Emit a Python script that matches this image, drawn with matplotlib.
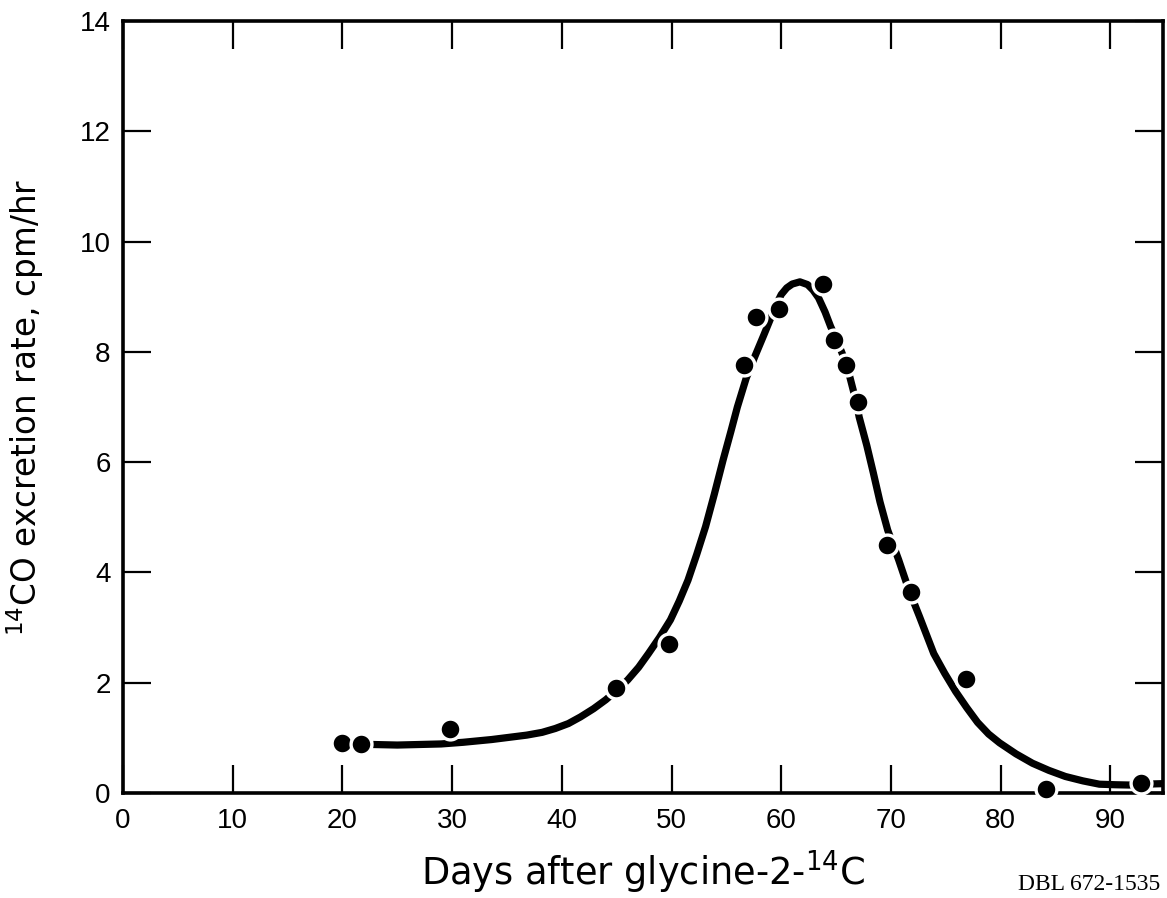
import numpy as np
import matplotlib.pyplot as plt

# measured points
days = [20, 21.7, 29.8, 44.9, 49.8, 56.6, 57.7, 59.8, 63.8, 64.8, 65.9, 67.0,
        69.6, 71.8, 76.8, 84.1, 92.8]
rate = [0.91, 0.89, 1.16, 1.91, 2.71, 7.76, 8.64, 8.77, 9.23, 8.22, 7.76, 7.09,
        4.49, 3.65, 2.06, 0.08, 0.18]

# hand-drawn fitted curve
curve_x = [22.8, 25.0, 27.0, 29.0, 31.0, 33.6, 35.2, 36.8, 38.2, 39.4, 40.6, 41.7,
           42.9, 44.0, 45.0, 46.0, 47.0, 47.9, 48.9, 49.9, 50.7, 51.5, 52.3, 53.1,
           53.9, 54.7, 55.4, 56.0, 56.8, 57.6, 58.4, 59.1, 59.6, 60.0, 60.5, 61.0,
           61.7, 62.4, 62.9, 63.4, 64.0, 64.5, 65.0, 65.5, 66.0, 66.4, 66.8, 67.1,
           67.8, 68.4, 69.0, 69.7, 70.7, 71.6, 72.6, 73.9, 74.9, 75.9, 76.9, 77.9,
           78.9, 79.9, 81.4, 82.9, 84.4, 85.9, 87.5, 89.0, 90.5, 91.7, 93.0, 94.8]
curve_y = [0.88, 0.87, 0.88, 0.89, 0.92, 0.97, 1.01, 1.05, 1.10, 1.17, 1.26, 1.38,
           1.53, 1.69, 1.86, 2.05, 2.28, 2.53, 2.82, 3.14, 3.48, 3.86, 4.33, 4.83,
           5.42, 6.04, 6.55, 7.00, 7.52, 7.92, 8.30, 8.64, 8.88, 9.04, 9.16, 9.23,
           9.27, 9.22, 9.12, 8.98, 8.72, 8.46, 8.24, 8.00, 7.74, 7.43, 7.12, 6.82,
           6.30, 5.80, 5.28, 4.77, 4.23, 3.70, 3.20, 2.53, 2.17, 1.84, 1.55, 1.28,
           1.07, 0.91, 0.71, 0.54, 0.41, 0.30, 0.22, 0.16, 0.15, 0.145, 0.16, 0.17]

plt.rcParams['font.family'] = ['Liberation Sans', 'DejaVu Sans']
plt.rcParams['mathtext.fontset'] = 'dejavusans'

fig = plt.figure(figsize=(11.67, 8.98), dpi=100)
ax = fig.add_axes([0.1054, 0.1169, 0.8912, 0.8597])

ax.plot(curve_x, curve_y, color='black', linewidth=5.2, solid_capstyle='butt',
        solid_joinstyle='round', zorder=3)
ax.plot(days, rate, 'o', color='black', markersize=15, markeredgecolor='white',
        markeredgewidth=2.4, clip_on=False, zorder=5)

ax.set_xlim(0, 94.8)
ax.set_ylim(0, 14)
ax.set_xticks(np.arange(0, 91, 10))
ax.set_yticks(np.arange(0, 15, 2))

for s in ax.spines.values():
    s.set_linewidth(2.6)
    s.set_zorder(4)

ax.tick_params(axis='both', which='major', direction='in', length=20, width=1.6,
               top=True, right=True, labelsize=20)
ax.tick_params(axis='x', pad=11)
ax.tick_params(axis='y', pad=9)

ax.set_xlabel('Days after glycine-2-$^{14}$C', family='DejaVu Sans', fontsize=26.5,
              labelpad=10)
ax.set_ylabel('$^{14}$CO excretion rate, cpm/hr', family='DejaVu Sans', fontsize=23.5,
              labelpad=24)

fig.text(0.994, 0.003, 'DBL 672-1535', family='Liberation Serif', fontsize=17,
         ha='right', va='bottom')

plt.savefig('out.png', dpi=100)
